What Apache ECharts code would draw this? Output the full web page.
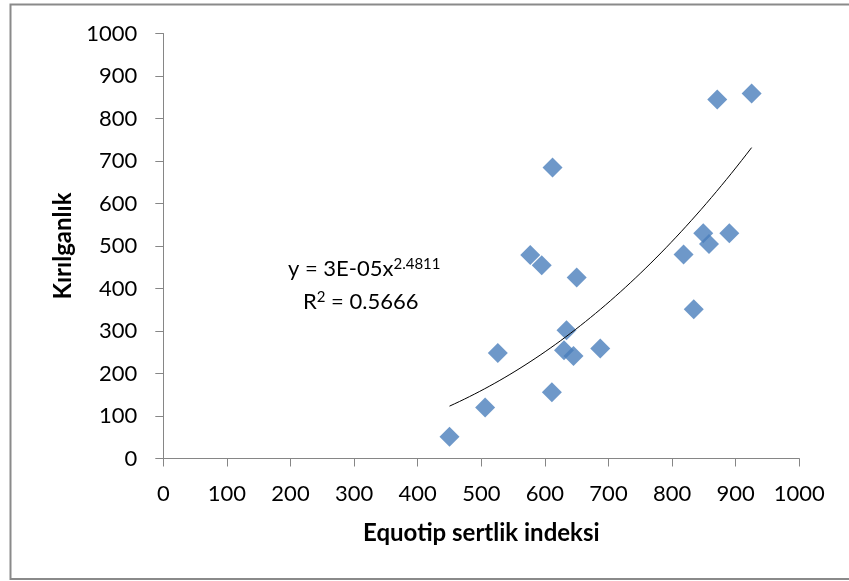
<!DOCTYPE html>
<html>
<head>
<meta charset="utf-8">
<script src="https://cdn.jsdelivr.net/npm/echarts@6/dist/echarts.min.js"></script>
<style>
html,body{margin:0;padding:0;background:#fff;}
#chart{width:849px;height:581px;}
</style>
</head>
<body>
<div id="chart"></div>
<script>
// Data
const hardness = [450, 506, 526, 612, 577, 595, 650, 611, 634, 630, 645, 687, 818, 849, 858, 834, 871, 925, 890];
const brittleness = [51, 120, 248, 685, 479, 455, 426, 156, 302, 255, 241, 259, 480, 530, 505, 351, 845, 859, 530];
const axisTicks = [0, 100, 200, 300, 400, 500, 600, 700, 800, 900, 1000];
const xTitle = 'Equotip sertlik indeksi';
const yTitle = 'Kırılganlık';
const eqText = ['y = 3E-05x', '2.4811'];
const r2Text = '0.5666';

const points = hardness.map((x, i) => [x, brittleness[i]]);

// Power trendline from least squares on log-log values (as Excel does)
const n = points.length;
let sx = 0, sy = 0, sxx = 0, sxy = 0;
points.forEach(([x, y]) => {
  const lx = Math.log(x), ly = Math.log(y);
  sx += lx; sy += ly; sxx += lx * lx; sxy += lx * ly;
});
const b = (n * sxy - sx * sy) / (n * sxx - sx * sx);
const a = Math.exp((sy - b * sx) / n);
const xmin = Math.min(...hardness), xmax = Math.max(...hardness);
const trend = [];
for (let i = 0; i <= 60; i++) {
  const x = xmin + (xmax - xmin) * i / 60;
  trend.push([x, a * Math.pow(x, b)]);
}

const FONT = 'Lato';
const chart = echarts.init(document.getElementById('chart'), null, {renderer: 'canvas'});
chart.setOption({
  animation: false,
  backgroundColor: '#fff',
  textStyle: {fontFamily: FONT},
  grid: {left: 163.3, right: 49.7, top: 33.5, bottom: 122.5, containLabel: false},
  xAxis: {
    type: 'value', min: 0, max: 1000, interval: 100,
    name: xTitle, nameLocation: 'middle', nameGap: 63,
    nameTextStyle: {fontFamily: FONT, fontSize: 24, fontWeight: 'bold', color: '#000'},
    axisLine: {show: true, lineStyle: {color: '#868686', width: 1}},
    axisTick: {show: true, length: 8, lineStyle: {color: '#868686'}},
    axisLabel: {fontFamily: FONT, fontSize: 22, color: '#000', margin: 24,
      formatter: v => axisTicks.includes(v) ? String(v) : ''},
    splitLine: {show: false}
  },
  yAxis: {
    type: 'value', min: 0, max: 1000, interval: 100,
    name: yTitle, nameLocation: 'middle', nameGap: 86, nameRotate: 90,
    nameTextStyle: {fontFamily: FONT, fontSize: 24, fontWeight: 'bold', color: '#000'},
    axisLine: {show: true, lineStyle: {color: '#868686', width: 1}},
    axisTick: {show: true, length: 8, lineStyle: {color: '#868686'}},
    axisLabel: {fontFamily: FONT, fontSize: 22, color: '#000', margin: 26,
      formatter: v => axisTicks.includes(v) ? String(v) : ''},
    splitLine: {show: false}
  },
  series: [
    {
      type: 'line', data: trend, showSymbol: false, smooth: false,
      lineStyle: {color: '#000', width: 1}, z: 3, silent: true
    },
    {
      type: 'scatter', data: points, symbol: 'diamond', symbolSize: 20,
      itemStyle: {color: '#4a7ebb'}, z: 2
    }
  ],
  graphic: [
    {
      type: 'rect', silent: true, z: -1,
      shape: {x: 10.5, y: 4.5, width: 860, height: 574.5},
      style: {fill: 'none', stroke: '#8a8a8a', lineWidth: 2}
    },
    {
      type: 'text', left: 288, top: 257, z: 10,
      style: {
        text: '{m|' + eqText[0] + '}{s|' + eqText[1] + '}',
        rich: {
          m: {fontFamily: FONT, fontSize: 22, color: '#000', lineHeight: 28},
          s: {fontFamily: FONT, fontSize: 15, color: '#000', lineHeight: 28, padding: [0, 0, 9, 0]}
        }
      }
    },
    {
      type: 'text', left: 303, top: 290, z: 10,
      style: {
        text: '{m|R}{s|2}{m| = ' + r2Text + '}',
        rich: {
          m: {fontFamily: FONT, fontSize: 22, color: '#000', lineHeight: 28},
          s: {fontFamily: FONT, fontSize: 15, color: '#000', lineHeight: 28, padding: [0, 0, 9, 0]}
        }
      }
    }
  ]
});
</script>
</body>
</html>
